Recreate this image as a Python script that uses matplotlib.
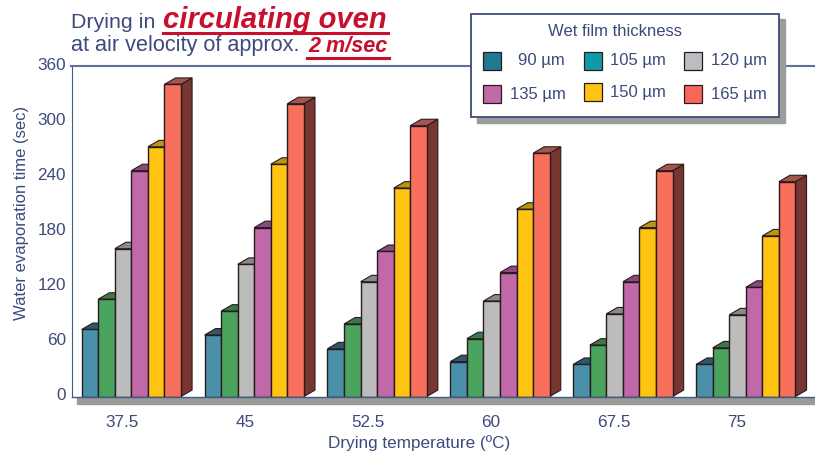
#water evaporation time vs drying temperature, fake 3D bars

import matplotlib
matplotlib.use('Agg')
import matplotlib.pyplot as plt
from matplotlib.patches import Rectangle
from matplotlib.lines import Line2D
from matplotlib.transforms import ScaledTranslation

plt.rcParams['font.family'] = ['Liberation Sans', 'DejaVu Sans']

TEMPS = ['37.5', '45', '52.5', '60', '67.5', '75']
SERIES = ['90 µm', '105 µm', '120 µm', '135 µm', '150 µm', '165 µm']
YTICKS = [0, 60, 120, 180, 240, 300, 360]

T_90 = [73, 67, 52, 38, 35, 35]
T_105 = [106, 93, 79, 63, 56, 53]
T_120 = [161, 144, 125, 104, 90, 89]
T_135 = [246, 184, 158, 135, 125, 119]
T_150 = [272, 253, 227, 204, 184, 175]
T_165 = [340, 319, 295, 265, 246, 234]
VALUES = [T_90, T_105, T_120, T_135, T_150, T_165]

FRONT = ['#4a90a8', '#4aa45e', '#bcbcbc', '#c068a8', '#ffc412', '#f7705c']
TOP = ['#2b5a6c', '#3a7a48', '#8a8a8a', '#8c4a7c', '#b8960e', '#a5564a']
SIDE = ['#24505f', '#2e6238', '#707070', '#703a63', '#8f7408', '#773630']
LEGEND_COLORS = ['#1f7a94', '#0f9aa5', '#bcbcc2', '#c068a8', '#ffc412', '#f7665a']

TEXT = '#3d4a7c'
AXIS = '#5f6f98'
EDGE = '#2a1a20'
RED = '#c8102e'

W, H = 815, 455
BAR_W = 0.1347
DX, DY = 0.09, 7

fig = plt.figure(figsize=(W / 100, H / 100), dpi=100, facecolor='white')
ax = fig.add_axes([71.5 / W, (H - 396.5) / H, (W - 71.5) / W, 330.5 / H])
ax.set_xlim(-0.41, 5.64)
ax.set_ylim(0, 360)

for spine in ['right', 'bottom']:
    ax.spines[spine].set_visible(False)
ax.spines['left'].set_color('#3c5c80')
ax.spines['top'].set_color(AXIS)
ax.spines['top'].set_linewidth(1.5)

ax.set_xticks(range(len(TEMPS)), TEMPS)
ax.set_yticks(YTICKS)
ax.tick_params(length=0, colors=TEXT, labelsize=12.3)
ax.tick_params(axis='x', pad=13)
ax.tick_params(axis='y', pad=4)
# y tick labels sit a touch above their value
up = ScaledTranslation(0, 2 / 100, fig.dpi_scale_trans)
for lab in ax.get_yticklabels():
    lab.set_transform(lab.get_transform() + up)

for g in range(len(TEMPS)):
    for s, vals in enumerate(VALUES):
        x0 = g - 0.327 + s * BAR_W
        x1 = x0 + BAR_W
        h = vals[g]
        ax.fill([x1, x1 + DX, x1 + DX, x1], [0, DY, h + DY, h], color=SIDE[s],
                ec=EDGE, lw=0.8, clip_on=False, zorder=3)
        ax.fill([x0, x0 + DX, x1 + DX, x1], [h, h + DY, h + DY, h], color=TOP[s],
                ec=EDGE, lw=0.8, clip_on=False, zorder=3)
        ax.bar(x0, h, BAR_W, align='edge', color=FRONT[s], ec=EDGE, lw=1.0,
               clip_on=False, zorder=3)

# overlay in pixel coords for floor shadow, titles and legend box
ov = fig.add_axes([0, 0, 1, 1], facecolor='none', zorder=5)
ov.set_xlim(0, W)
ov.set_ylim(H, 0)
ov.axis('off')

ov.add_patch(Rectangle((77, 397.5), W - 77, 6, color='#9a9a9a', zorder=1))
ov.add_line(Line2D([71.5, W], [396.8, 396.8], color='#3c5c80', lw=1, zorder=1.5))

ov.text(71, 22, 'Drying in', color=TEXT, fontsize=15.4, va='center')
ov.text(163, 20, 'circulating oven', color=RED, fontsize=21, fontweight='bold',
        style='italic', va='center')
ov.add_line(Line2D([163, 388], [33, 33], color=RED, lw=2.2))
ov.text(71, 46, 'at air velocity of approx.', color=TEXT, fontsize=15.6, va='center')
ov.text(308, 46, '2 m/sec', color=RED, fontsize=15.6, fontweight='bold',
        style='italic', va='center')
ov.add_line(Line2D([307, 389], [57.5, 57.5], color=RED, lw=2.2))

ov.text(22, 213, 'Water evaporation time (sec)', color=TEXT, fontsize=12,
        rotation=90, ha='center', va='center')
ov.text(419, 443, 'Drying temperature (ºC)', color=TEXT, fontsize=12.3,
        ha='center', va='center')

# legend
ov.add_patch(Rectangle((477, 19), 308, 104, color='#9c9c9c', zorder=6))
ov.add_patch(Rectangle((471, 13.5), 308, 103.5, fc='white', ec='#3d4a7c', lw=1.3, zorder=7))
ov.text(615, 31, 'Wet film thickness', color=TEXT, fontsize=12, ha='center',
        va='center', zorder=8)
SWATCH_X = [483, 584, 684]
LABEL_X = [518, 610, 711]
for i, name in enumerate(SERIES):
    col = i % 3
    row = i // 3
    sx = SWATCH_X[col]
    sy = 52 if row == 0 else (83 if col == 1 else 85)
    ov.add_patch(Rectangle((sx, sy), 18, 18, fc=LEGEND_COLORS[i], ec=EDGE, lw=0.9, zorder=8))
    lx = 510 if row == 1 and col == 0 else LABEL_X[col]
    ov.text(lx, 61 if row == 0 else (92 if col == 1 else 94), name, color=TEXT,
            fontsize=12, va='center', zorder=8)

fig.savefig('out.png', dpi=100, facecolor='white')
plt.close(fig)
